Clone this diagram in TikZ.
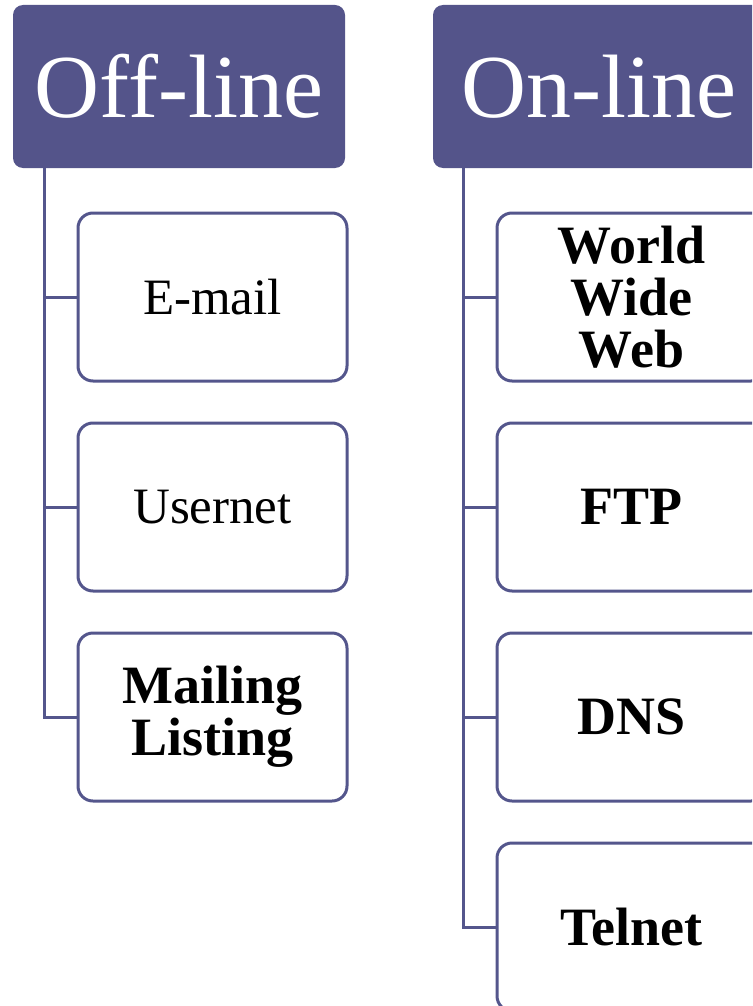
\documentclass[tikz,border=0pt]{standalone}
\usepackage{fontspec}
\setmainfont{Liberation Serif}
\definecolor{hdr}{RGB}{84,84,138}
\definecolor{brd}{RGB}{84,86,140}
\begin{document}
\begin{tikzpicture}[x=1pt,y=-1pt,
  header/.style={fill=hdr,draw=none,rounded corners=10pt,minimum width=332pt,minimum height=163pt,text=white,font=\fontsize{90}{96}\selectfont,inner sep=0pt},
  child/.style={draw=brd,line width=3pt,fill=white,rounded corners=15pt,minimum width=269pt,minimum height=168pt,align=center,inner sep=0pt,font=\fontsize{51}{52}\selectfont},
  bchild/.style={child,font=\fontsize{54}{52}\selectfont\bfseries},
  link/.style={draw=brd,line width=3pt}]
\useasboundingbox (0,0) rectangle (752,1006);
\clip (0,0) rectangle (752,1006);
\node[header] (off) at (179,86.5) {Off-line};
\node[header] (on) at (599,86.5) {On-line};
\node[child] (email) at (212.5,297) {E-mail};
\node[child] (usenet) at (212.5,507) {Usernet};
\node[bchild] (mail) at (212.5,717) {Mailing\\Listing};
\node[bchild] (www) at (631.5,297) {World\\Wide\\Web};
\node[bchild] (ftp) at (631.5,507) {FTP};
\node[bchild] (dns) at (631.5,717) {DNS};
\node[bchild] (tel) at (631.5,927) {Telnet};
\coordinate (ot) at ([xshift=32pt]off.south west);
\coordinate (nt) at ([xshift=31pt]on.south west);
\draw[link] (ot) |- (email.west);
\draw[link] (ot) |- (usenet.west);
\draw[link] (ot) |- (mail.west);
\draw[link] (nt) |- (www.west);
\draw[link] (nt) |- (ftp.west);
\draw[link] (nt) |- (dns.west);
\draw[link] (nt) |- (tel.west);
\end{tikzpicture}
\end{document}
